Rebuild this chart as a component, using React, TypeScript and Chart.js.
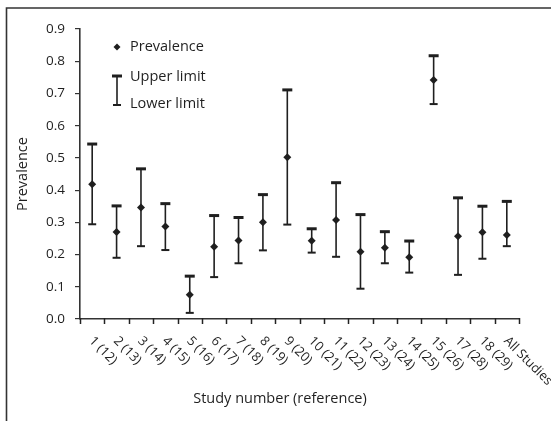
import React, { useEffect, useRef } from "react";
import { Chart, registerables } from "chart.js";

Chart.register(...registerables);

const studies = ["1 (12)", "2 (13)", "3 (14)", "4 (15)", "5 (16)", "6 (17)", "7 (18)", "8 (19)", "9 (20)", "10 (21)", "11 (22)", "12 (23)", "13 (24)", "14 (25)", "15 (26)", "17 (28)", "18 (29)", "All Studies"];
const prevalence = [0.418, 0.270, 0.346, 0.287, 0.075, 0.224, 0.244, 0.300, 0.502, 0.243, 0.307, 0.209, 0.221, 0.192, 0.742, 0.257, 0.269, 0.261];
const upperLimit = [0.543, 0.351, 0.466, 0.358, 0.133, 0.321, 0.315, 0.386, 0.711, 0.280, 0.423, 0.324, 0.271, 0.242, 0.817, 0.376, 0.350, 0.365];
const lowerLimit = [0.294, 0.190, 0.226, 0.214, 0.019, 0.130, 0.173, 0.213, 0.293, 0.206, 0.193, 0.094, 0.173, 0.144, 0.667, 0.137, 0.187, 0.226];
const yTicks = [0, 0.1, 0.2, 0.3, 0.4, 0.5, 0.6, 0.7, 0.8, 0.9];

const FONT = "'Open Sans', sans-serif";
const INK = "#1f1f1f";

const decorPlugin = {
  id: "decor",
  beforeDatasetsDraw(chart: any) {
    const ctx = chart.ctx;
    const xs = chart.scales.x;
    const ys = chart.scales.y;
    ctx.save();
    ctx.strokeStyle = INK;
    for (let i = 0; i < studies.length; i++) {
      const x = xs.getPixelForValue(i);
      const yu = ys.getPixelForValue(upperLimit[i]);
      const yl = ys.getPixelForValue(lowerLimit[i]);
      ctx.lineWidth = 1.6;
      ctx.beginPath();
      ctx.moveTo(x, yu);
      ctx.lineTo(x, yl);
      ctx.stroke();
      ctx.lineWidth = 3;
      ctx.beginPath();
      ctx.moveTo(x - 5, yu);
      ctx.lineTo(x + 5, yu);
      ctx.stroke();
      ctx.lineWidth = 2;
      ctx.beginPath();
      ctx.moveTo(x - 4, yl);
      ctx.lineTo(x + 4, yl);
      ctx.stroke();
    }
    ctx.restore();
  },
  afterDraw(chart: any) {
    const ctx = chart.ctx;
    const xs = chart.scales.x;
    const area = chart.chartArea;
    ctx.save();
    // frame lines
    ctx.strokeStyle = "#333";
    ctx.lineWidth = 1.6;
    ctx.beginPath();
    ctx.moveTo(6.5, 421);
    ctx.lineTo(6.5, 8);
    ctx.lineTo(551, 8);
    ctx.stroke();

    // x tick marks at category boundaries (below the axis)
    const step = xs.getPixelForValue(1) - xs.getPixelForValue(0);
    const x0 = xs.getPixelForValue(0) - step / 2;
    const axisY = area.bottom;
    ctx.strokeStyle = "#222";
    ctx.lineWidth = 1.5;
    for (let k = 0; k <= studies.length; k++) {
      const x = Math.round(x0 + k * step) + 0.5;
      ctx.beginPath();
      ctx.moveTo(x, axisY - 1);
      ctx.lineTo(x, axisY + 5);
      ctx.stroke();
    }

    ctx.fillStyle = INK;
    // x labels rotated clockwise
    ctx.font = `13px ${FONT}`;
    ctx.textAlign = "left";
    ctx.textBaseline = "middle";
    for (let i = 0; i < studies.length; i++) {
      const x = xs.getPixelForValue(i);
      ctx.save();
      ctx.translate(x - 1, area.bottom + 20);
      ctx.rotate(Math.PI / 4);
      ctx.fillText(studies[i], 0, 0);
      ctx.restore();
    }
    // axis titles
    ctx.font = `14.5px ${FONT}`;
    ctx.textAlign = "center";
    ctx.fillText("Study number (reference)", 280, 399);
    ctx.save();
    ctx.translate(23, (area.top + area.bottom) / 2);
    ctx.rotate(-Math.PI / 2);
    ctx.fillText("Prevalence", 0, 0);
    ctx.restore();

    // legend
    ctx.textAlign = "left";
    ctx.fillText("Prevalence", 130, 47);
    ctx.fillText("Upper limit", 130, 77);
    ctx.fillText("Lower limit", 130, 104);
    ctx.beginPath();
    ctx.moveTo(117, 43.5);
    ctx.lineTo(120.5, 47);
    ctx.lineTo(117, 50.5);
    ctx.lineTo(113.5, 47);
    ctx.closePath();
    ctx.fill();
    ctx.strokeStyle = INK;
    ctx.lineWidth = 1.6;
    ctx.beginPath();
    ctx.moveTo(117, 76);
    ctx.lineTo(117, 105);
    ctx.stroke();
    ctx.lineWidth = 3;
    ctx.beginPath();
    ctx.moveTo(112, 76);
    ctx.lineTo(122, 76);
    ctx.stroke();
    ctx.lineWidth = 2;
    ctx.beginPath();
    ctx.moveTo(113, 105);
    ctx.lineTo(121, 105);
    ctx.stroke();
    ctx.restore();
  },
};

export default function App() {
  const ref = useRef<HTMLCanvasElement | null>(null);
  useEffect(() => {
    if (!ref.current) return;
    const chart = new Chart(ref.current, {
      type: "line",
      data: {
        labels: studies,
        datasets: [
          {
            label: "Prevalence",
            data: prevalence,
            showLine: false,
            pointStyle: "rectRot",
            pointRadius: 4,
            pointBackgroundColor: INK,
            pointBorderColor: INK,
            pointBorderWidth: 0,
          },
        ],
      },
      options: {
        animation: false,
        responsive: false,
        layout: { padding: { left: 0, top: 29, right: 32, bottom: 0 } },
        plugins: { legend: { display: false }, tooltip: { enabled: false } },
        scales: {
          x: {
            type: "category",
            offset: true,
            grid: { display: false },
            border: { display: true, color: "#333", width: 1.6 },
            ticks: { display: false },
            afterFit: (s: any) => { s.height = 102; },
          },
          y: {
            min: 0,
            max: 0.9,
            afterBuildTicks: (s: any) => { s.ticks = yTicks.map((v) => ({ value: v })); },
            ticks: {
              callback: (v: any) => Number(v).toFixed(1),
              font: { family: "'Open Sans', sans-serif", size: 13.5 },
              color: INK,
              padding: 10,
            },
            grid: { drawOnChartArea: false, drawTicks: true, tickLength: 5, color: "#333", lineWidth: 1.2 },
            border: { color: "#333", width: 1.6 },
            afterFit: (s: any) => { s.width = 80; },
          },
        },
      },
      plugins: [decorPlugin],
    });
    return () => chart.destroy();
  }, []);
  return (
    <div style={{ position: "fixed", left: 0, top: 0, width: 551, height: 421, background: "#fff" }}>
      <canvas ref={ref} width={551} height={421} />
    </div>
  );
}
